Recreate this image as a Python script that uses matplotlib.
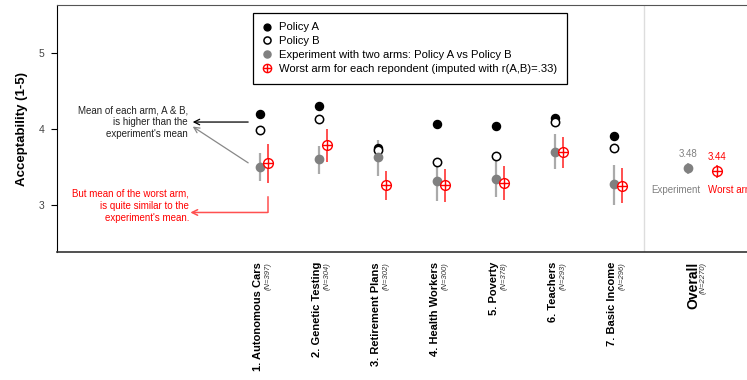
import numpy as np
import matplotlib
matplotlib.use("Agg")
import matplotlib.pyplot as plt

plt.rcParams['font.family'] = ['Liberation Sans', 'DejaVu Sans']

topics = ['1. Autonomous Cars', '2. Genetic Testing', '3. Retirement Plans',
          '4. Health Workers', '5. Poverty', '6. Teachers', '7. Basic Income']
n_labels = ['(N=397)', '(N=304)', '(N=302)', '(N=300)', '(N=378)', '(N=293)', '(N=296)']

policy_a = [4.20, 4.30, 3.75, 4.06, 4.04, 4.14, 3.90]
policy_b = [3.98, 4.13, 3.72, 3.57, 3.64, 4.09, 3.75]
exp_mean = [3.50, 3.60, 3.63, 3.31, 3.34, 3.70, 3.27]
exp_lo = [3.32, 3.41, 3.38, 3.05, 3.11, 3.47, 3.00]
exp_hi = [3.68, 3.77, 3.86, 3.54, 3.59, 3.93, 3.52]
worst_mean = [3.55, 3.79, 3.26, 3.26, 3.29, 3.70, 3.25]
worst_lo = [3.29, 3.57, 3.06, 3.04, 3.06, 3.49, 3.02]
worst_hi = [3.80, 4.00, 3.45, 3.47, 3.51, 3.89, 3.49]

overall_exp, overall_exp_lo, overall_exp_hi = 3.48, 3.40, 3.55
overall_worst, overall_worst_lo, overall_worst_hi = 3.44, 3.36, 3.52
overall_n = '(N=2270)'

GREY = '#808080'
GREY_BAR = '#aaaaaa'
RED = '#ff0000'
RED_BAR = '#ff5050'

x = np.arange(1, len(topics) + 1)
off = 0.135

fig = plt.figure(figsize=(7.47, 3.80), dpi=100)
ax = fig.add_axes([57 / 747, 128 / 380, 690 / 747, 247 / 380])

# error bars
ax.vlines(x, exp_lo, exp_hi, color=GREY_BAR, lw=1.6, zorder=1)
ax.vlines(x + off, worst_lo, worst_hi, color=RED_BAR, lw=1.4, zorder=1)

hA, = ax.plot(x, policy_a, 'o', color='black', ms=5.8, zorder=3)
hB, = ax.plot(x, policy_b, 'o', mfc='white', mec='black', mew=1.1, ms=6, zorder=3)
hE, = ax.plot(x, exp_mean, 'o', color=GREY, ms=6, zorder=3)
hW1, = ax.plot(x + off, worst_mean, 'o', mfc='white', mec=RED, mew=1.0, ms=7, zorder=4)
hW2, = ax.plot(x + off, worst_mean, '+', color=RED, mew=1.0, ms=7, zorder=5)

# overall
xo_e, xo_w = 8.254, 8.746
ax.vlines([xo_e], [overall_exp_lo], [overall_exp_hi], color=GREY_BAR, lw=1.6, zorder=1)
ax.plot([xo_e], [overall_exp], 'o', color=GREY, ms=6, zorder=3)
ax.vlines([xo_w], [overall_worst_lo], [overall_worst_hi], color=RED_BAR, lw=1.4, zorder=1)
ax.plot([xo_w], [overall_worst], 'o', mfc='white', mec=RED, mew=1.0, ms=7, zorder=4)
ax.plot([xo_w], [overall_worst], '+', color=RED, mew=1.0, ms=7, zorder=5)
ax.text(xo_e, 3.67, '%.2f' % overall_exp, color=GREY, fontsize=7, ha='center', va='center')
ax.text(xo_w, 3.63, '%.2f' % overall_worst, color=RED, fontsize=7, ha='center', va='center')
ax.text(8.46, 3.20, 'Experiment', color=GREY, fontsize=7, ha='right', va='center')
ax.text(8.59, 3.20, 'Worst arm', color=RED, fontsize=7, ha='left', va='center')

ax.axvline(7.5, color='#dddddd', lw=1, zorder=0)

# annotations
ax.text(-0.22, 4.09, "Mean of each arm, A & B,\nis higher than the\nexperiment's mean",
        fontsize=7, ha='right', va='center', color='#222222', linespacing=1.25)
ax.annotate('', xy=(-0.14, 4.09), xytext=(0.80, 4.09),
            arrowprops=dict(arrowstyle='->', color='black', lw=0.9, shrinkA=0, shrinkB=0))
ax.annotate('', xy=(-0.14, 4.03), xytext=(0.80, 3.553),
            arrowprops=dict(arrowstyle='->', color='#888888', lw=0.9, shrinkA=0, shrinkB=0))
ax.text(-0.20, 2.99, "But mean of the worst arm,\nis quite similar to the\nexperiment's mean.",
        fontsize=7, ha='right', va='center', color=RED, linespacing=1.25)
ax.plot([1.13, 1.13], [3.105, 2.90], color=RED_BAR, lw=1.1)
ax.annotate('', xy=(-0.18, 2.90), xytext=(1.13, 2.90),
            arrowprops=dict(arrowstyle='->', color=RED_BAR, lw=1.1, shrinkA=0, shrinkB=0))

# axes
ax.set_xlim(-2.44, 9.254)
ax.set_ylim(2.38, 5.63)
ax.set_yticks([3, 4, 5])
ax.tick_params(axis='y', length=4, labelsize=7.5, labelcolor='#444444', pad=5)
ax.set_xticks([])
ax.spines['right'].set_visible(False)
ax.spines['top'].set_color('#555555')
ax.spines['left'].set_color('black')
ax.spines['bottom'].set_color('#333333')
ax.spines['bottom'].set_linewidth(1.2)
ax.set_ylabel('Acceptability (1-5)', fontsize=9.5, fontweight='bold', labelpad=8)

tr = ax.get_xaxis_transform()
for xi, t, n in zip(x, topics, n_labels):
    ax.text(xi - 0.03, -0.04, t, transform=tr, rotation=90, ha='center', va='top',
            fontsize=8, fontweight='bold')
    ax.text(xi + 0.13, -0.04, n, transform=tr, rotation=90, ha='center', va='top',
            fontsize=5.5, style='italic', color='#333333')
ax.text(8.34, -0.04, 'Overall', transform=tr, rotation=90, ha='center', va='top',
        fontsize=10, fontweight='bold')
ax.text(8.51, -0.04, overall_n, transform=tr, rotation=90, ha='center', va='top',
        fontsize=5.5, style='italic', color='#333333')

leg = ax.legend([hA, hB, hE, (hW1, hW2)],
                ['Policy A', 'Policy B', 'Experiment with two arms: Policy A vs Policy B',
                 'Worst arm for each repondent (imputed with r(A,B)=.33)'],
                loc='upper left', bbox_to_anchor=(0.284, 0.968), borderaxespad=0,
                fontsize=8.1, fancybox=False, edgecolor='black', framealpha=1,
                handlelength=0.8, handletextpad=0.7, labelspacing=0.35, borderpad=0.85,
                markerscale=0.85)
leg.get_frame().set_linewidth(0.9)

fig.savefig('out.png', dpi=100)
